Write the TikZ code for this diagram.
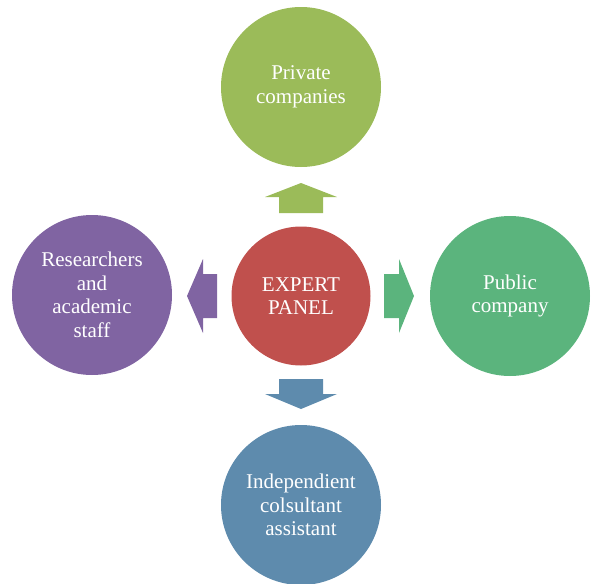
\documentclass[tikz,border=0pt]{standalone}
\usepackage{fontspec}
\setmainfont{Liberation Serif}
\definecolor{cred}{HTML}{C0504D}
\definecolor{cgreenA}{HTML}{9BBB59}
\definecolor{cgreenB}{HTML}{5BB47D}
\definecolor{cpurple}{HTML}{8064A2}
\definecolor{cblue}{HTML}{5E8BAD}
\begin{document}
\begin{tikzpicture}[x=1pt,y=-1pt,
  bubble/.style={circle,minimum size=160pt,inner sep=0pt,align=center,text=white,
    font=\fontsize{21}{23.5}\selectfont},
  hub/.style={bubble,minimum size=139pt}]
\useasboundingbox (0,0) rectangle (595,584);
\node[hub,fill=cred] (c) at (301,296) {EXPERT\\PANEL};
\node[bubble,fill=cgreenA] (t) at (301,87) {Private\\companies};
\node[bubble,fill=cpurple] (l) at (92,295) {Researchers\\and\\academic\\staff};
\node[bubble,fill=cgreenB] (r) at (510,296) {Public\\company};
\node[bubble,fill=cblue] (b) at (301,505) {Independient\\colsultant\\assistant};
% block arrows
\fill[cgreenA] (279,213) -- (279,197) -- (265,197) -- (301,183) -- (337,197) -- (323,197) -- (323,213) -- cycle;
\fill[cblue] (279,379) -- (279,394) -- (265,394) -- (301,409) -- (337,394) -- (323,394) -- (323,379) -- cycle;
\fill[cpurple] (217,274) -- (203,274) -- (203,259) -- (187,296) -- (203,333) -- (203,318) -- (217,318) -- cycle;
\fill[cgreenB] (384,274) -- (399,274) -- (399,259) -- (414,296) -- (399,333) -- (399,318) -- (384,318) -- cycle;
\end{tikzpicture}
\end{document}
